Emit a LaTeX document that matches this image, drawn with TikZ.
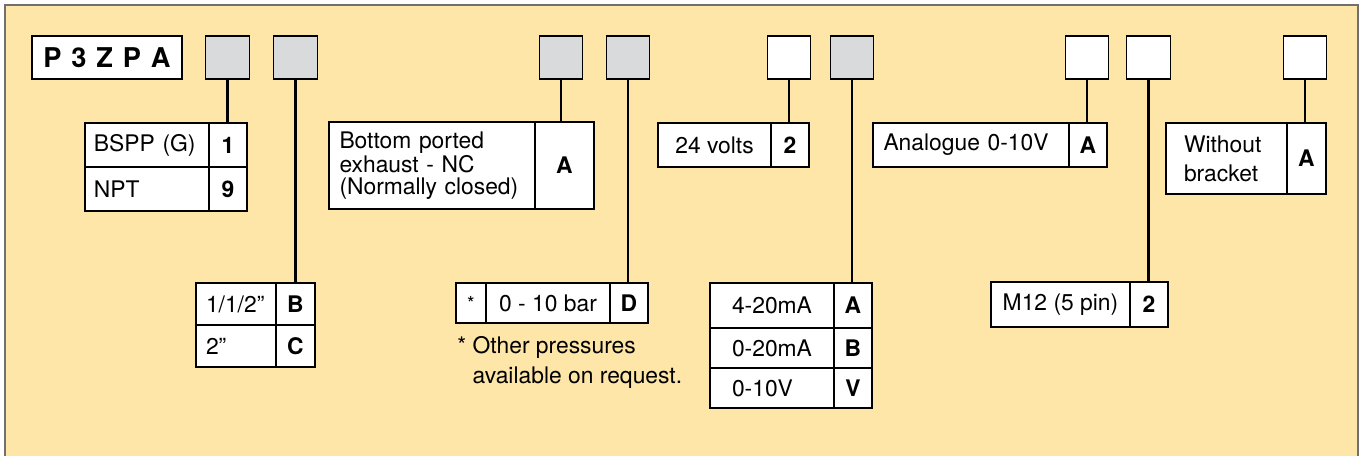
\documentclass[tikz,border=0pt]{standalone}
\usepackage{fontspec}
\setmainfont{TeX Gyre Heros}
\usepackage{tikz}
\usetikzlibrary{positioning}
\definecolor{paper}{HTML}{FEE5A8}
\definecolor{slotgrey}{HTML}{D9DADC}
\definecolor{edgegrey}{HTML}{707070}
\tikzstyle{link} = [line width=1.5pt]
\tikzstyle{slot} = [rectangle, draw=black, line width=0.75pt, minimum width=0.87cm,
    minimum height=0.86cm, inner sep=0pt, outer sep=0pt]
\tikzstyle{opt} = [rectangle, draw=black, fill=white, line width=0.75pt, inner xsep=0.2cm,
    inner ysep=0pt, outer sep=0pt, align=left, font=\fontsize{13}{12.5}\selectfont]
\tikzstyle{code} = [opt, inner xsep=0pt, minimum width=0.76cm,
    font=\fontsize{13}{12.5}\selectfont\bfseries]

\begin{document}
\begin{tikzpicture}[x=0.02cm, y=-0.02cm]
\useasboundingbox (0,0) rectangle (1362,456);
\fill [paper, draw=edgegrey, line width=0.6pt] (5,5) rectangle (1358,470);

% model code and the option slots
\node (model) [slot, fill=white, minimum width=3cm,
    font=\fontsize{15.5}{15}\selectfont\bfseries] at (107,57.5) {\spaceskip=5.6pt P 3 Z P A};
\node (s1) [slot, fill=slotgrey] at (227.5,57.5) {};
\node (s2) [slot, fill=slotgrey] at (295.5,57.5) {};
\node (s3) [slot, fill=slotgrey] at (561,57.5) {};
\node (s4) [slot, fill=slotgrey] at (628,57.5) {};
\node (s5) [slot, fill=white] at (789,57.5) {};
\node (s6) [slot, fill=slotgrey] at (852,57.5) {};
\node (s7) [slot, fill=white] at (1087,57.5) {};
\node (s8) [slot, fill=white] at (1148.5,57.5) {};
\node (s9) [slot, fill=white] at (1305,57.5) {};

% port thread
\node (port1) [opt, anchor=north west, text width=2.12cm, inner xsep=0.18cm, minimum height=0.88cm] at (85,123) {BSPP (G)};
\node (port1c) [code, minimum height=0.88cm, right=0pt of port1] {1};
\node (port2) [opt, text width=2.12cm, inner xsep=0.18cm, minimum height=0.88cm, below=0pt of port1] {NPT};
\node (port2c) [code, minimum height=0.88cm, right=0pt of port2] {9};

% port size
\node (size1) [opt, anchor=north west, text width=1.2cm, minimum height=0.84cm] at (196,283) {1/1/2”};
\node (size1c) [code, minimum width=0.78cm, minimum height=0.84cm, right=0pt of size1] {B};
\node (size2) [opt, text width=1.2cm, minimum height=0.84cm, below=0pt of size1] {2”};
\node (size2c) [code, minimum width=0.78cm, minimum height=0.84cm, right=0pt of size2] {C};

% function
\node (func) [opt, anchor=north west, text width=3.7cm, inner xsep=0.21cm, minimum height=1.74cm] at (329,122)
    {Bottom ported\\exhaust - NC\\(Normally closed)};
\node (funcc) [code, minimum width=1.18cm, minimum height=1.74cm, right=0pt of func] {A};

% pressure range
\node (star) [opt, anchor=north west, inner xsep=0pt, minimum width=0.6cm, minimum height=0.8cm,
    font=\fontsize{11}{11}\selectfont] at (456,283) {\raisebox{-0.3em}{*}};
\node (press) [opt, inner xsep=0pt, minimum width=2.48cm, minimum height=0.8cm, right=0pt of star] {0 - 10 bar};
\node (pressc) [code, minimum height=0.8cm, right=0pt of press] {D};
\node (note) [anchor=north west, align=left, inner sep=0pt, font=\fontsize{13}{17}\selectfont] at (457,336)
    {* Other pressures\\\phantom{*\ }available on request.};

% voltage
\node (volt) [opt, anchor=north west, inner xsep=0pt, minimum width=2.26cm, minimum height=0.88cm] at (658,123) {24 volts};
\node (voltc) [code, minimum height=0.88cm, right=0pt of volt] {2};

% output signal
\node (out1) [opt, anchor=north west, text width=1.6cm, inner xsep=0.44cm, minimum height=0.9cm] at (710,283) {4-20mA};
\node (out1c) [code, minimum height=0.9cm, right=0pt of out1] {A};
\node (out2) [opt, text width=1.6cm, inner xsep=0.44cm, minimum height=0.8cm, below=0pt of out1] {0-20mA};
\node (out2c) [code, minimum height=0.8cm, right=0pt of out2] {B};
\node (out3) [opt, text width=1.6cm, inner xsep=0.44cm, minimum height=0.8cm, below=0pt of out2] {0-10V};
\node (out3c) [code, minimum height=0.8cm, right=0pt of out3] {V};

% display
\node (disp) [opt, anchor=north west, text width=3.5cm, inner xsep=0.21cm, minimum height=0.88cm] at (873,123) {Analogue 0-10V};
\node (dispc) [code, minimum height=0.88cm, right=0pt of disp] {A};

% electrical connection
\node (plug) [opt, anchor=north west, inner xsep=0pt, minimum width=2.78cm, minimum height=0.9cm] at (991,282) {M12 (5 pin)};
\node (plugc) [code, minimum height=0.9cm, right=0pt of plug] {2};

% bracket
\node (brkt) [opt, anchor=north west, text width=1.7cm, inner xsep=0.36cm, minimum height=1.42cm,
    font=\fontsize{13}{16.5}\selectfont] at (1166,123) {Without\\bracket};
\node (brktc) [code, minimum width=0.78cm, minimum height=1.42cm, right=0pt of brkt] {A};

% slot to option links
\draw [link] (s1.south) -- (s1.south |- port1c.north);
\draw [link] (s2.south) -- (s2.south |- size1c.north);
\draw [link] (s3.south) -- (s3.south |- funcc.north);
\draw [link] (s4.south) -- (s4.south |- pressc.north);
\draw [link] (s5.south) -- (s5.south |- voltc.north);
\draw [link] (s6.south) -- (s6.south |- out1c.north);
\draw [link] (s7.south) -- (s7.south |- dispc.north);
\draw [link] (s8.south) -- (s8.south |- plugc.north);
\draw [link] (s9.south) -- (s9.south |- brktc.north);
\end{tikzpicture}
\end{document}
